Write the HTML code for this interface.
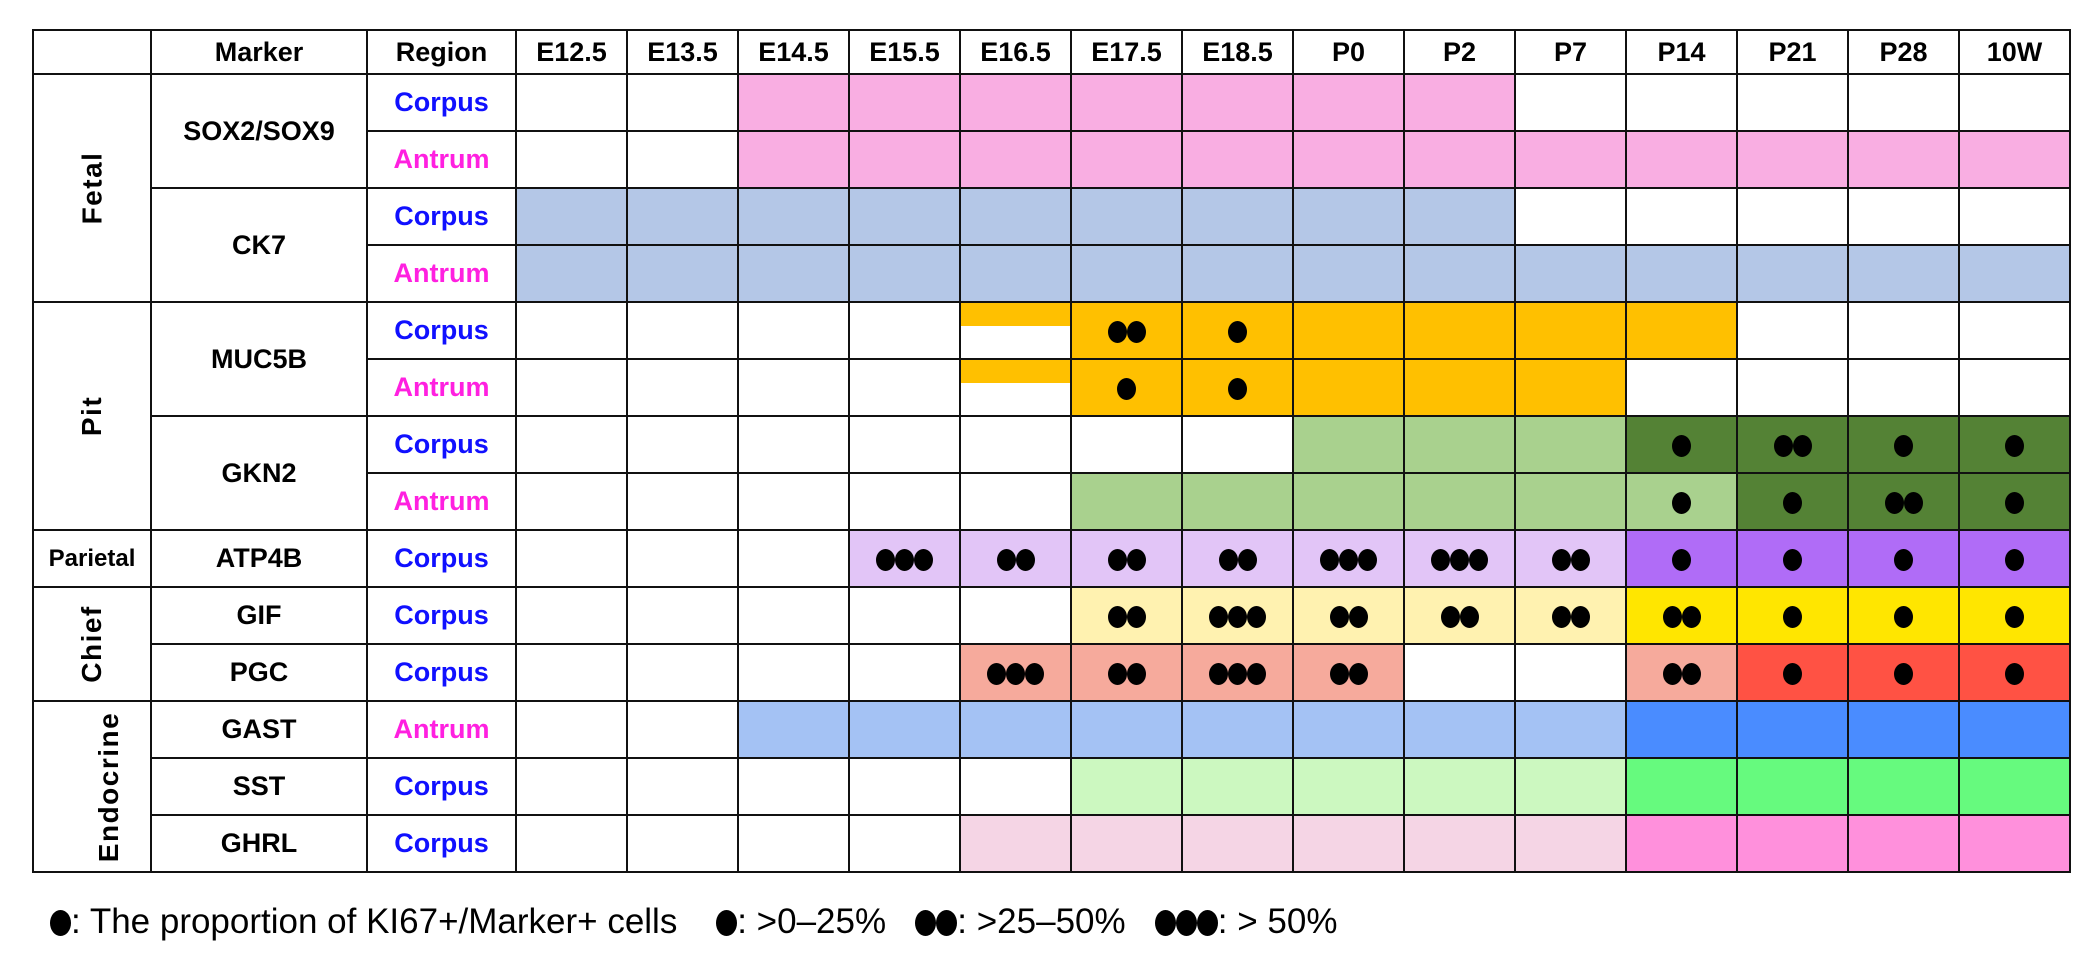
<!DOCTYPE html>
<html><head><meta charset="utf-8">
<style>
html,body{margin:0;padding:0;background:#fff;}
body{width:2097px;height:954px;position:relative;overflow:hidden;font-family:"Liberation Sans",Arial,sans-serif;}
table{position:absolute;left:32px;top:29px;border-collapse:collapse;table-layout:fixed;width:2037px;}
td{border:2.5px solid #111;padding:0;text-align:center;vertical-align:middle;font-weight:bold;font-size:27px;height:55px;line-height:1;}
tr.h td{height:42px;font-size:27px;}
.c{color:#1010ff}.a{color:#ff20e0}
.rot{display:inline-block;transform:rotate(-90deg);white-space:nowrap;font-size:28px;letter-spacing:1.5px}
.d{display:inline-block;width:19px;height:22px;border-radius:50%;background:#000;margin:0 0px;vertical-align:middle}
.pk{background:#f9aee2}.bl{background:#b4c7e7}.or{background:#ffc000}
.half{background:linear-gradient(#ffc000 0,#ffc000 42%,#fff 42%)}
.lg{background:#a9d18e}.dg{background:#548235}
.lv{background:#e2c5f7}.pu{background:#b06cf7}
.ly{background:#fff2b0}.ye{background:#ffe600}
.ls{background:#f6aa9c}.re{background:#ff5244}
.lb{background:#a4c2f4}.db{background:#4a8cff}
.lgr{background:#ccf8c0}.gr{background:#66fa7e}
.lp{background:#f5d5e5}.mp{background:#ff90dc}
.legend{position:absolute;left:50px;top:902px;font-size:35px;white-space:nowrap;}
.legend .d{width:21px;height:26px;vertical-align:-3px}
</style></head><body>
<table>
<colgroup><col style="width:118px"><col style="width:216px"><col style="width:149px">
<col style="width:111px"><col style="width:111px"><col style="width:111px"><col style="width:111px"><col style="width:111px"><col style="width:111px"><col style="width:111px"><col style="width:111px"><col style="width:111px"><col style="width:111px"><col style="width:111px"><col style="width:111px"><col style="width:111px"><col style="width:111px"></colgroup>
<tr class="h"><td></td><td>Marker</td><td>Region</td><td>E12.5</td><td>E13.5</td><td>E14.5</td><td>E15.5</td><td>E16.5</td><td>E17.5</td><td>E18.5</td><td>P0</td><td>P2</td><td>P7</td><td>P14</td><td>P21</td><td>P28</td><td>10W</td></tr>
<tr><td rowspan="4"><span class="rot">Fetal</span></td><td rowspan="2">SOX2/SOX9</td><td class="c">Corpus</td><td></td><td></td><td class="pk"></td><td class="pk"></td><td class="pk"></td><td class="pk"></td><td class="pk"></td><td class="pk"></td><td class="pk"></td><td></td><td></td><td></td><td></td><td></td></tr>
<tr><td class="a">Antrum</td><td></td><td></td><td class="pk"></td><td class="pk"></td><td class="pk"></td><td class="pk"></td><td class="pk"></td><td class="pk"></td><td class="pk"></td><td class="pk"></td><td class="pk"></td><td class="pk"></td><td class="pk"></td><td class="pk"></td></tr>
<tr><td rowspan="2">CK7</td><td class="c">Corpus</td><td class="bl"></td><td class="bl"></td><td class="bl"></td><td class="bl"></td><td class="bl"></td><td class="bl"></td><td class="bl"></td><td class="bl"></td><td class="bl"></td><td></td><td></td><td></td><td></td><td></td></tr>
<tr><td class="a">Antrum</td><td class="bl"></td><td class="bl"></td><td class="bl"></td><td class="bl"></td><td class="bl"></td><td class="bl"></td><td class="bl"></td><td class="bl"></td><td class="bl"></td><td class="bl"></td><td class="bl"></td><td class="bl"></td><td class="bl"></td><td class="bl"></td></tr>
<tr><td rowspan="4"><span class="rot">Pit</span></td><td rowspan="2">MUC5B</td><td class="c">Corpus</td><td></td><td></td><td></td><td></td><td class="half"></td><td class="or"><i class="d"></i><i class="d"></i></td><td class="or"><i class="d"></i></td><td class="or"></td><td class="or"></td><td class="or"></td><td class="or"></td><td></td><td></td><td></td></tr>
<tr><td class="a">Antrum</td><td></td><td></td><td></td><td></td><td class="half"></td><td class="or"><i class="d"></i></td><td class="or"><i class="d"></i></td><td class="or"></td><td class="or"></td><td class="or"></td><td></td><td></td><td></td><td></td></tr>
<tr><td rowspan="2">GKN2</td><td class="c">Corpus</td><td></td><td></td><td></td><td></td><td></td><td></td><td></td><td class="lg"></td><td class="lg"></td><td class="lg"></td><td class="dg"><i class="d"></i></td><td class="dg"><i class="d"></i><i class="d"></i></td><td class="dg"><i class="d"></i></td><td class="dg"><i class="d"></i></td></tr>
<tr><td class="a">Antrum</td><td></td><td></td><td></td><td></td><td></td><td class="lg"></td><td class="lg"></td><td class="lg"></td><td class="lg"></td><td class="lg"></td><td class="lg"><i class="d"></i></td><td class="dg"><i class="d"></i></td><td class="dg"><i class="d"></i><i class="d"></i></td><td class="dg"><i class="d"></i></td></tr>
<tr><td style="font-size:24px">Parietal</td><td>ATP4B</td><td class="c">Corpus</td><td></td><td></td><td></td><td class="lv"><i class="d"></i><i class="d"></i><i class="d"></i></td><td class="lv"><i class="d"></i><i class="d"></i></td><td class="lv"><i class="d"></i><i class="d"></i></td><td class="lv"><i class="d"></i><i class="d"></i></td><td class="lv"><i class="d"></i><i class="d"></i><i class="d"></i></td><td class="lv"><i class="d"></i><i class="d"></i><i class="d"></i></td><td class="lv"><i class="d"></i><i class="d"></i></td><td class="pu"><i class="d"></i></td><td class="pu"><i class="d"></i></td><td class="pu"><i class="d"></i></td><td class="pu"><i class="d"></i></td></tr>
<tr><td rowspan="2"><span class="rot">Chief</span></td><td>GIF</td><td class="c">Corpus</td><td></td><td></td><td></td><td></td><td></td><td class="ly"><i class="d"></i><i class="d"></i></td><td class="ly"><i class="d"></i><i class="d"></i><i class="d"></i></td><td class="ly"><i class="d"></i><i class="d"></i></td><td class="ly"><i class="d"></i><i class="d"></i></td><td class="ly"><i class="d"></i><i class="d"></i></td><td class="ye"><i class="d"></i><i class="d"></i></td><td class="ye"><i class="d"></i></td><td class="ye"><i class="d"></i></td><td class="ye"><i class="d"></i></td></tr>
<tr><td>PGC</td><td class="c">Corpus</td><td></td><td></td><td></td><td></td><td class="ls"><i class="d"></i><i class="d"></i><i class="d"></i></td><td class="ls"><i class="d"></i><i class="d"></i></td><td class="ls"><i class="d"></i><i class="d"></i><i class="d"></i></td><td class="ls"><i class="d"></i><i class="d"></i></td><td></td><td></td><td class="ls"><i class="d"></i><i class="d"></i></td><td class="re"><i class="d"></i></td><td class="re"><i class="d"></i></td><td class="re"><i class="d"></i></td></tr>
<tr><td rowspan="3"><span class="rot">Endocrine</span></td><td>GAST</td><td class="a">Antrum</td><td></td><td></td><td class="lb"></td><td class="lb"></td><td class="lb"></td><td class="lb"></td><td class="lb"></td><td class="lb"></td><td class="lb"></td><td class="lb"></td><td class="db"></td><td class="db"></td><td class="db"></td><td class="db"></td></tr>
<tr><td>SST</td><td class="c">Corpus</td><td></td><td></td><td></td><td></td><td></td><td class="lgr"></td><td class="lgr"></td><td class="lgr"></td><td class="lgr"></td><td class="lgr"></td><td class="gr"></td><td class="gr"></td><td class="gr"></td><td class="gr"></td></tr>
<tr><td>GHRL</td><td class="c">Corpus</td><td></td><td></td><td></td><td></td><td class="lp"></td><td class="lp"></td><td class="lp"></td><td class="lp"></td><td class="lp"></td><td class="lp"></td><td class="mp"></td><td class="mp"></td><td class="mp"></td><td class="mp"></td></tr>
</table>
<div class="legend"><i class="d"></i>: The proportion of KI67+/Marker+ cells &nbsp;&nbsp; <i class="d"></i>: &gt;0–25% &nbsp;&nbsp;<i class="d"></i><i class="d"></i>: &gt;25–50% &nbsp;&nbsp;<i class="d"></i><i class="d"></i><i class="d"></i>: &gt; 50%</div>
</body></html>
